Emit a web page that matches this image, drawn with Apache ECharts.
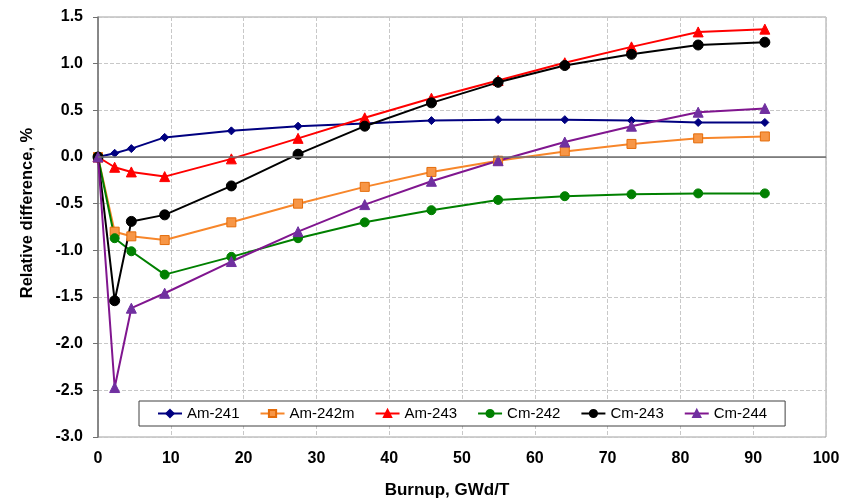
<!DOCTYPE html>
<html><head><meta charset="utf-8">
<script src="https://cdn.jsdelivr.net/npm/echarts@6/dist/echarts.min.js"></script>
<style>html,body{margin:0;padding:0;background:#fff}#c{width:854px;height:502px}</style>
</head><body><div id="c"></div>
<script>
const burnup = [0, 2.29, 4.58, 9.16, 18.32, 27.48, 36.64, 45.8, 54.96, 64.12, 73.28, 82.44, 91.6];
const am241  = [0, 0.04, 0.09, 0.21, 0.28, 0.33, 0.36, 0.39, 0.40, 0.40, 0.39, 0.37, 0.37];
const am242m = [0, -0.80, -0.85, -0.89, -0.70, -0.50, -0.32, -0.16, -0.04, 0.06, 0.14, 0.20, 0.22];
const am243  = [0, -0.11, -0.16, -0.21, -0.02, 0.20, 0.42, 0.63, 0.82, 1.01, 1.18, 1.34, 1.37];
const cm242  = [0, -0.87, -1.01, -1.26, -1.07, -0.87, -0.70, -0.57, -0.46, -0.42, -0.40, -0.39, -0.39];
const cm243  = [0, -1.54, -0.69, -0.62, -0.31, 0.03, 0.33, 0.58, 0.80, 0.98, 1.10, 1.20, 1.23];
const cm244  = [0, -2.47, -1.62, -1.46, -1.12, -0.80, -0.51, -0.26, -0.04, 0.16, 0.33, 0.48, 0.52];

const font = '"Liberation Sans", Arial, sans-serif';
function pairs(ys){ return burnup.map((x,i)=>[x, ys[i]]); }
function mk(name, ys, color, symbol, size, fill, border){
  return {
    name, type:'line', data: pairs(ys), symbol, symbolSize: size,
    lineStyle:{color, width:2}, itemStyle:{color: fill||color, borderColor: border||color, borderWidth: 1},
    emphasis:{disabled:true}, animation:false
  };
}
const series = [
  mk('Am-241', am241, '#000080', 'diamond', 8),
  mk('Am-242m', am242m, '#F7862A', 'rect', 9, '#F79646', '#E46C0A'),
  mk('Am-243', am243, '#FF0000', 'triangle', 10),
  mk('Cm-242', cm242, '#008000', 'circle', 9),
  mk('Cm-243', cm243, '#000000', 'circle', 10),
  mk('Cm-244', cm244, '#80168F', 'triangle', 10, '#7030A0', '#7030A0')
];
series[0].markLine = {silent:true, symbol:'none', label:{show:false}, animation:false,
  lineStyle:{color:'#707070', width:1.5, type:'solid'}, data:[{yAxis:0}]};

const chart = echarts.init(document.getElementById('c'));
chart.setOption({
  backgroundColor:'#fff',
  animation:false,
  grid:{left:98, right:28, top:17, bottom:65, show:true, borderColor:'#A0A0A0', borderWidth:1},
  xAxis:{type:'value', min:0, max:100, interval:10,
    axisLine:{show:true, lineStyle:{color:'#A0A0A0'}}, axisTick:{show:false},
    axisLabel:{fontFamily:font, fontWeight:'bold', fontSize:16, color:'#000', margin:14},
    splitLine:{show:true, lineStyle:{color:'#C8C8C8', type:'dashed'}}},
  yAxis:{type:'value', min:-3, max:1.5, interval:0.5,
    axisLine:{show:true, lineStyle:{color:'#707070', width:1.5}},
    axisTick:{show:true, inside:false, length:5, lineStyle:{color:'#707070'}},
    axisLabel:{fontFamily:font, fontWeight:'bold', fontSize:16, color:'#000', margin:15,
      formatter:v=>v.toFixed(1)},
    splitLine:{show:true, lineStyle:{color:'#C8C8C8', type:'dashed'}}},
  legend:{left:139, top:401, orient:'horizontal', backgroundColor:'#fff', borderColor:'#404040', borderWidth:1,
    padding:[5,18,5,18], itemGap:20, itemWidth:24, itemHeight:9,
    textStyle:{fontFamily:font, fontSize:15, color:'#000'},
    data:series.map(s=>s.name)},
  graphic:[
    {type:'text', x:27, y:213, rotation:Math.PI/2,
     style:{text:'Relative difference, %', font:'bold 16.5px '+font, fill:'#000', align:'center', verticalAlign:'middle'}},
    {type:'text', x:447, y:490,
     style:{text:'Burnup, GWd/T', font:'bold 17px '+font, fill:'#000', align:'center', verticalAlign:'middle'}}
  ],
  series
});
</script></body></html>
